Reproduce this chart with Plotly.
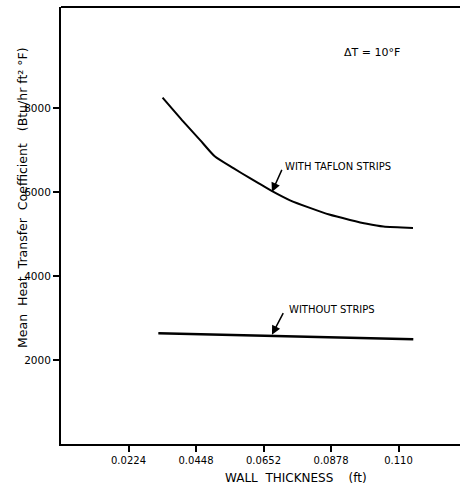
import plotly.graph_objects as go

# Data
x_teflon = [0.0337, 0.0406, 0.0461, 0.0511, 0.0572, 0.0627, 0.0699, 0.0760, 0.0826, 0.0890, 0.0959, 0.1015, 0.1070, 0.1168]
y_teflon = [8245, 7674, 7238, 6840, 6564, 6326, 6024, 5800, 5619, 5460, 5333, 5240, 5174, 5143]

x_without = [0.0323, 0.0699, 0.1169]
y_without = [2635, 2580, 2495]

x_tick_vals = [0.0224, 0.0448, 0.0672, 0.0896, 0.1120]
x_tick_labels = ["0.0224", "0.0448", "0.0652", "0.0878", "0.110"]
y_tick_vals = [2000, 4000, 6000, 8000]
y_tick_labels = ["2000", "4000", "6000", "8000"]

font = "DejaVu Sans"

fig = go.Figure()
fig.add_trace(go.Scatter(x=x_teflon, y=y_teflon, mode="lines",
                         line=dict(color="black", width=2, shape="spline", smoothing=0.6),
                         showlegend=False, hoverinfo="skip"))
fig.add_trace(go.Scatter(x=x_without, y=y_without, mode="lines",
                         line=dict(color="black", width=2.5),
                         showlegend=False, hoverinfo="skip"))

fig.update_layout(
    width=463, height=488,
    margin=dict(l=61, r=3, t=7, b=44, autoexpand=False),
    paper_bgcolor="white", plot_bgcolor="white",
    font=dict(family=font, color="black", size=10),
    xaxis=dict(range=[0, 0.1324], showgrid=False, zeroline=False,
               showline=True, linecolor="black", linewidth=2,
               ticks="outside", ticklen=6, tickwidth=1.5, tickcolor="black",
               tickvals=x_tick_vals, ticktext=x_tick_labels,
               tickfont=dict(family=font, size=10, color="black")),
    yaxis=dict(range=[0, 10400], showgrid=False, zeroline=False,
               showline=True, linecolor="black", linewidth=2,
               ticks="outside", ticklen=6, tickwidth=1.5, tickcolor="black",
               tickvals=y_tick_vals, ticktext=y_tick_labels,
               tickfont=dict(family=font, size=10.5, color="black")),
)

# top border line only
fig.add_shape(type="line", xref="paper", yref="paper", x0=0, x1=1, y0=1, y1=1,
              line=dict(color="black", width=2))

# annotations
fig.add_annotation(x=0.0933, y=9310, xref="x", yref="y", text="ΔT = 10°F",
                   showarrow=False, xanchor="left", yanchor="middle",
                   font=dict(family=font, size=11, color="black"))
fig.add_annotation(x=0.0737, y=6595, xref="x", yref="y", text="WITH TAFLON STRIPS",
                   showarrow=False, xanchor="left", yanchor="middle",
                   font=dict(family=font, size=10, color="black"))
fig.add_annotation(x=0.0700, y=6000, ax=0.0735, ay=6560, xref="x", yref="y",
                   axref="x", ayref="y", text="", showarrow=True,
                   arrowhead=2, arrowsize=1.2, arrowwidth=1.5, arrowcolor="black")
fig.add_annotation(x=0.0750, y=3190, xref="x", yref="y", text="WITHOUT STRIPS",
                   showarrow=False, xanchor="left", yanchor="middle",
                   font=dict(family=font, size=10, color="black"))
fig.add_annotation(x=0.0700, y=2600, ax=0.0740, ay=3150, xref="x", yref="y",
                   axref="x", ayref="y", text="", showarrow=True,
                   arrowhead=2, arrowsize=1.2, arrowwidth=1.5, arrowcolor="black")

# axis titles
fig.add_annotation(x=-0.098, y=0.565, xref="paper", yref="paper", textangle=-90,
                   text="Mean  Heat  Transfer  Coefficient   (Btu/hr ft² °F)",
                   showarrow=False, xanchor="center", yanchor="middle",
                   font=dict(family=font, size=12.5, color="black"))
fig.add_annotation(x=0.59, y=-0.078, xref="paper", yref="paper",
                   text="WALL  THICKNESS    (ft)", showarrow=False,
                   xanchor="center", yanchor="middle",
                   font=dict(family=font, size=12, color="black"))

fig.write_html("out.html", config={"displayModeBar": False},
               post_script="document.body.style.margin='0';document.body.style.overflow='hidden';")
